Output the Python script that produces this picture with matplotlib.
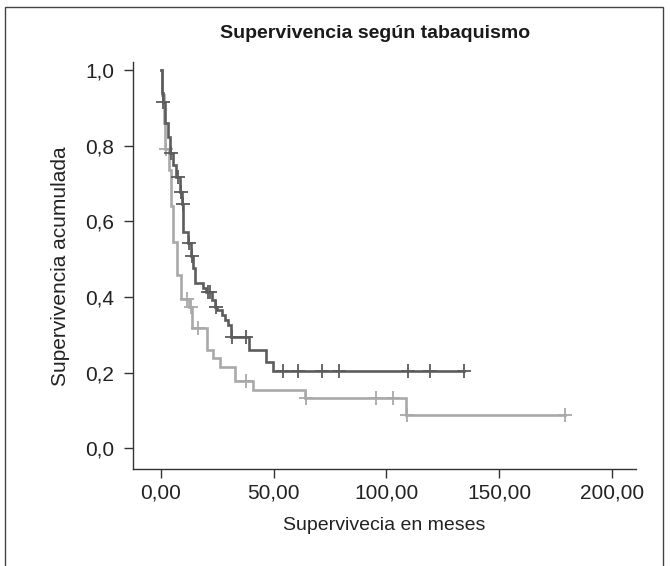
import numpy as np
import matplotlib
matplotlib.use("Agg")
import matplotlib.pyplot as plt
from matplotlib.patches import Rectangle

plt.rcParams['font.family'] = ['Liberation Sans', 'DejaVu Sans']

# curva 1 (gris oscuro): tiempos de evento y supervivencia tras cada evento
t_osc = [0.3, 0.8, 1.8, 3.0, 4.0, 5.5, 6.5, 8.5, 9.3, 10.0, 12.0, 13.2, 14.2,
         15.1, 18.8, 20.0, 22.5, 24.0, 25.0, 26.9, 28.5, 29.9, 31.2, 39.2,
         46.4, 49.8]
s_osc = [0.94, 0.916, 0.86, 0.824, 0.78, 0.75, 0.718, 0.678, 0.646, 0.573,
         0.542, 0.508, 0.476, 0.438, 0.423, 0.413, 0.392, 0.373, 0.366, 0.352,
         0.339, 0.326, 0.295, 0.26, 0.229, 0.205]
cens_osc = [1.0, 4.5, 7.5, 8.9, 9.6, 12.5, 13.6, 20.8, 21.8, 24.5, 31.6, 37.6,
            54.3, 60.9, 71.6, 79.1, 109.4, 119.3, 134.4]

# curva 2 (gris claro)
t_cla = [0.5, 1.3, 2.0, 3.5, 4.3, 5.5, 7.0, 8.7, 12.5, 13.8, 20.3, 22.9, 26.2,
         32.8, 41.0, 64.0, 108.7]
s_cla = [0.934, 0.86, 0.79, 0.735, 0.64, 0.546, 0.457, 0.396, 0.374, 0.317,
         0.26, 0.238, 0.216, 0.179, 0.154, 0.132, 0.088]
cens_cla = [2.2, 11.5, 13.3, 16.6, 37.7, 64.2, 95.4, 103.1, 109.0, 179.2]

xticks = [0, 50, 100, 150, 200]
xticklabels = ['0,00', '50,00', '100,00', '150,00', '200,00']
yticks = [0.0, 0.2, 0.4, 0.6, 0.8, 1.0]
yticklabels = ['0,0', '0,2', '0,4', '0,6', '0,8', '1,0']


def km_curve(ax, tiempos, surv, cens, color):
    # escalones desde 1,0 en t=0 hasta el ultimo censurado
    fin = max(max(cens), tiempos[-1])
    xs = np.r_[0.0, tiempos, fin]
    ys = np.r_[1.0, surv, surv[-1]]
    ax.step(xs, ys, where='post', color=color, lw=1.9, solid_joinstyle='miter')
    # marcas de censura sobre la curva
    idx = np.searchsorted(xs, cens, side='right') - 1
    ax.plot(cens, ys[idx], ls='none', marker='+', ms=10, mew=1.3, color=color)


fig = plt.figure(figsize=(6.7, 5.66), dpi=100)
ax = fig.add_axes([0.1985, 0.1708, 0.7507, 0.7189])

km_curve(ax, t_cla, s_cla, cens_cla, '#a9a9a9')
km_curve(ax, t_osc, s_osc, cens_osc, '#5c5c5c')

ax.set_xlim(-12.4, 210.7)
ax.set_ylim(-0.0555, 1.02)
ax.set_xticks(xticks)
ax.set_xticklabels(xticklabels)
ax.set_yticks(yticks)
ax.set_yticklabels(yticklabels)

for s in ['top', 'right']:
    ax.spines[s].set_visible(False)
for s in ['left', 'bottom']:
    ax.spines[s].set_color('#333333')
    ax.spines[s].set_linewidth(1.0)
ax.tick_params(direction='out', length=6.5, width=1.0, color='#333333',
               labelcolor='#222222', labelsize=15)
ax.tick_params(axis='x', pad=4)
ax.tick_params(axis='y', pad=7)

ax.set_xlabel('Supervivecia en meses', fontsize=14, color='#222222')
ax.set_ylabel('Supervivencia acumulada', fontsize=15, color='#222222')
ax.xaxis.label.set_va('center')
ax.yaxis.label.set_va('center')
ax.xaxis.set_label_coords(0.5, -0.137)
ax.yaxis.set_label_coords(-0.145, 0.5)

fig.text(0.56, 1 - 33 / 566, 'Supervivencia según tabaquismo', ha='center',
         va='center', fontsize=14, fontweight='bold', color='#1a1a1a')

# marco alrededor de la figura
fig.patches.append(Rectangle((4.5 / 670, -0.02), 658.5 / 670, 1.0076,
                             transform=fig.transFigure, fill=False,
                             edgecolor='#444444', lw=1.0))

fig.savefig('out.png', dpi=100)
